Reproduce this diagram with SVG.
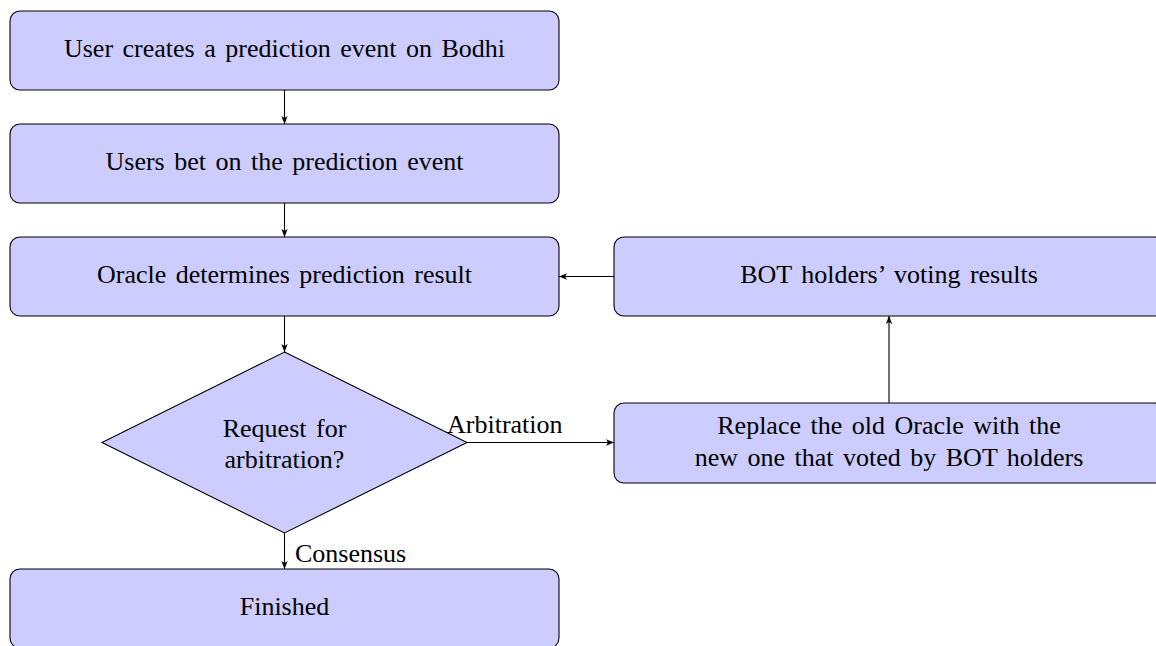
<svg xmlns="http://www.w3.org/2000/svg" width="1156" height="646" viewBox="0 0 1156 646">
<style>
.box{fill:#ccccff;stroke:#000;stroke-width:1.1}
.t{font-family:"Liberation Serif","Times New Roman",serif;font-size:26px;fill:#000;text-anchor:middle;word-spacing:3px}
.l{font-family:"Liberation Serif","Times New Roman",serif;font-size:26px;fill:#000;word-spacing:3px}
.c{fill:none;stroke:#000;stroke-width:1.1}
</style>
<defs>
<marker id="ah" viewBox="0 0 10 10" refX="10" refY="5" markerWidth="8" markerHeight="8" markerUnits="userSpaceOnUse" orient="auto">
<path d="M0,1 L10,5 L0,9 L2.5,5 Z" fill="#000"/>
</marker>
</defs>
<rect width="1156" height="646" fill="#fff"/>
<g id="connectors">
<line class="c" x1="284.5" y1="90" x2="284.5" y2="124" marker-end="url(#ah)"/>
<line class="c" x1="284.5" y1="203" x2="284.5" y2="237" marker-end="url(#ah)"/>
<line class="c" x1="284.5" y1="316" x2="284.5" y2="352" marker-end="url(#ah)"/>
<line class="c" x1="284.5" y1="533" x2="284.5" y2="569" marker-end="url(#ah)"/>
<line class="c" x1="467" y1="442.5" x2="614" y2="442.5" marker-end="url(#ah)"/>
<line class="c" x1="889" y1="403" x2="889" y2="316" marker-end="url(#ah)"/>
<line class="c" x1="614" y1="276.5" x2="559" y2="276.5" marker-end="url(#ah)"/>
<text class="l" x="447" y="433">Arbitration</text>
<text class="l" x="295" y="562">Consensus</text>
</g>
<g id="n1">
<rect class="box" x="10" y="11" width="549" height="79" rx="10"/>
<text class="t" x="284.5" y="57">User creates a prediction event on Bodhi</text>
</g>
<g id="n2">
<rect class="box" x="10" y="124" width="549" height="79" rx="10"/>
<text class="t" x="284.5" y="170">Users bet on the prediction event</text>
</g>
<g id="n3">
<rect class="box" x="10" y="237" width="549" height="79" rx="10"/>
<text class="t" x="284.5" y="283">Oracle determines prediction result</text>
</g>
<g id="n4">
<polygon class="box" points="284.5,352 467,442.5 284.5,533 102,442.5"/>
<text class="t" x="284.5" y="437">Request for</text>
<text class="t" x="284.5" y="468">arbitration?</text>
</g>
<g id="n5">
<rect class="box" x="10" y="569" width="549" height="79" rx="10"/>
<text class="t" x="284.5" y="615">Finished</text>
</g>
<g id="n6">
<rect class="box" x="614" y="237" width="550" height="79" rx="10"/>
<text class="t" x="889" y="283">BOT holders’ voting results</text>
</g>
<g id="n7">
<rect class="box" x="614" y="403" width="550" height="80" rx="10"/>
<text class="t" x="889" y="434">Replace the old Oracle with the</text>
<text class="t" x="889" y="466">new one that voted by BOT holders</text>
</g>
</svg>
